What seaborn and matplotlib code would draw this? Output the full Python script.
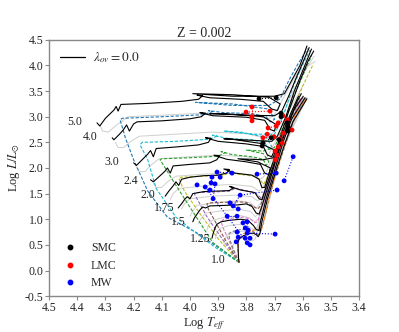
"""
HR diagram: evolutionary tracks at Z = 0.002 with SMC / LMC / MW stars
"""
import numpy as np
import pandas as pd
import matplotlib
matplotlib.use("Agg")
import matplotlib.pyplot as plt
import seaborn as sns
from matplotlib.lines import Line2D

# ---------------------------------------------------------------- data
masses = ["5.0", "4.0", "3.0", "2.4", "2.0", "1.75", "1.5", "1.25", "1.0"]
mass_colors = ["tab:blue", "tab:cyan", "tab:green", "tab:olive", "tab:purple",
               "tab:brown", "tab:pink", "tab:gray", "tab:orange"]

# lambda_ov = 0.0 tracks (logTeff, logL)
black_50 = [(4.33, 2.88), (4.32, 2.82), (4.30, 2.97), (4.27, 3.13), (4.262, 3.20), (4.255, 3.11),
            (4.245, 3.24), (4.15, 3.26), (4.03, 3.30), (3.97, 3.34), (3.955, 3.41), (3.975, 3.42),
            (3.93, 3.37), (3.82, 3.34), (3.74, 3.30), (3.71, 3.15), (3.69, 3.12), (3.68, 3.25),
            (3.72, 3.38), (3.85, 3.43), (3.99, 3.45), (3.85, 3.40), (3.70, 3.40), (3.665, 3.45),
            (3.64, 3.70), (3.61, 4.00), (3.585, 4.38)]
black_40 = [(4.276, 2.59), (4.27, 2.55), (4.25, 2.66), (4.237, 2.74), (4.225, 2.84), (4.215, 2.72),
            (4.20, 2.86), (4.188, 2.90), (4.10, 2.92), (4.00, 2.96), (3.96, 3.00), (3.945, 3.07),
            (3.965, 3.08), (3.92, 3.02), (3.80, 2.99), (3.735, 2.93), (3.715, 2.75), (3.70, 2.72),
            (3.695, 2.85), (3.74, 3.00), (3.88, 3.06), (3.93, 3.06), (3.80, 3.03), (3.70, 3.02),
            (3.675, 3.10), (3.65, 3.40), (3.62, 3.80), (3.577, 4.35)]
black_30 = [(4.20, 2.10), (4.19, 2.05), (4.17, 2.16), (4.15, 2.27), (4.14, 2.34), (4.13, 2.22),
            (4.12, 2.38), (4.05, 2.41), (3.97, 2.45), (3.935, 2.50), (3.925, 2.58), (3.945, 2.59),
            (3.90, 2.52), (3.80, 2.47), (3.74, 2.42), (3.725, 2.25), (3.71, 2.22), (3.70, 2.35),
            (3.75, 2.48), (3.85, 2.56), (3.88, 2.57), (3.78, 2.54), (3.71, 2.52), (3.69, 2.62),
            (3.66, 3.00), (3.63, 3.50), (3.60, 3.90), (3.569, 4.32)]
black_24 = [(4.14, 1.77), (4.13, 1.73), (4.11, 1.83), (4.09, 1.93), (4.08, 2.00), (4.07, 1.90),
            (4.06, 2.04), (4.00, 2.07), (3.93, 2.10), (3.905, 2.16), (3.895, 2.24), (3.915, 2.25),
            (3.87, 2.17), (3.80, 2.12), (3.75, 2.07), (3.735, 1.90), (3.72, 1.87), (3.715, 2.00),
            (3.76, 2.12), (3.83, 2.18), (3.74, 2.16), (3.705, 2.20), (3.68, 2.60), (3.65, 3.10),
            (3.61, 3.70), (3.58, 4.10), (3.561, 4.28)]
black_20 = [(4.088, 1.45), (4.075, 1.55), (4.06, 1.65), (4.05, 1.73), (4.04, 1.66), (4.03, 1.78),
            (4.00, 1.82), (3.95, 1.85), (3.90, 1.86), (3.87, 1.90), (3.86, 1.97), (3.88, 1.98),
            (3.84, 1.90), (3.78, 1.86), (3.755, 1.78), (3.745, 1.62), (3.735, 1.62), (3.725, 1.80),
            (3.70, 2.20), (3.67, 2.70), (3.64, 3.10), (3.615, 3.40)]
black_175 = [(4.042, 1.22), (4.03, 1.30), (4.02, 1.38), (4.01, 1.44), (4.00, 1.40), (3.99, 1.50),
             (3.95, 1.54), (3.90, 1.55), (3.86, 1.56), (3.845, 1.62), (3.86, 1.64), (3.82, 1.57),
             (3.77, 1.52), (3.755, 1.40), (3.745, 1.38), (3.735, 1.55), (3.71, 1.95), (3.68, 2.45),
             (3.65, 2.90), (3.62, 3.30), (3.605, 3.45)]
black_15 = [(3.99, 0.95), (3.985, 1.02), (3.975, 1.10), (3.965, 1.18), (3.955, 1.24), (3.945, 1.22),
            (3.93, 1.26), (3.88, 1.27), (3.83, 1.28), (3.80, 1.30), (3.78, 1.25), (3.765, 1.12),
            (3.755, 1.10), (3.745, 1.25), (3.72, 1.70), (3.69, 2.25), (3.66, 2.75), (3.63, 3.15),
            (3.598, 3.40)]
black_125 = [(3.922, 0.63), (3.918, 0.72), (3.912, 0.82), (3.905, 0.90), (3.89, 0.95), (3.86, 0.98),
             (3.82, 1.00), (3.795, 0.98), (3.775, 0.88), (3.765, 0.80), (3.755, 0.78), (3.75, 0.95),
             (3.73, 1.40), (3.70, 1.95), (3.67, 2.50), (3.64, 2.95), (3.592, 3.37)]
black_10 = [(3.826, 0.16), (3.828, 0.25), (3.829, 0.40), (3.83, 0.55), (3.825, 0.62), (3.81, 0.68),
            (3.79, 0.72), (3.775, 0.73), (3.765, 0.70), (3.758, 0.66), (3.752, 0.72), (3.745, 0.95),
            (3.725, 1.40), (3.695, 1.95), (3.665, 2.45), (3.635, 2.90), (3.585, 3.35)]

# other overshoot values (coloured dashed)
dash_50 = [(3.826, 0.16), (3.90, 0.45), (3.98, 0.75), (4.08, 1.04), (4.15, 1.55), (4.20, 2.16),
           (4.23, 2.60), (4.248, 2.94), (4.24, 2.97), (4.10, 3.00), (3.95, 3.04), (3.92, 3.10),
           (3.935, 3.12), (3.88, 3.08), (3.78, 3.06), (3.73, 3.00), (3.715, 2.90), (3.70, 2.95),
           (3.72, 3.15), (3.85, 3.25), (3.98, 3.28), (3.85, 3.22), (3.72, 3.22), (3.68, 3.35),
           (3.65, 3.70), (3.62, 4.00), (3.583, 4.33)]
dash_40 = [(3.826, 0.16), (3.91, 0.45), (3.99, 0.78), (4.05, 1.04), (4.12, 1.60), (4.15, 2.16),
           (4.177, 2.45), (4.17, 2.50), (4.05, 2.52), (3.93, 2.56), (3.905, 2.62), (3.92, 2.64),
           (3.87, 2.58), (3.78, 2.55), (3.735, 2.49), (3.72, 2.37), (3.71, 2.42), (3.73, 2.60),
           (3.82, 2.70), (3.88, 2.72), (3.78, 2.66), (3.70, 2.66), (3.67, 3.00), (3.64, 3.50),
           (3.61, 3.90), (3.575, 4.30)]
dash_30 = [(3.826, 0.16), (3.92, 0.55), (4.01, 1.32), (4.06, 1.75), (4.106, 2.16), (4.10, 2.18),
           (4.00, 2.20), (3.90, 2.23), (3.875, 2.30), (3.89, 2.32), (3.85, 2.26), (3.78, 2.22),
           (3.74, 2.17), (3.73, 2.05), (3.72, 2.12), (3.74, 2.28), (3.80, 2.35), (3.74, 2.33),
           (3.70, 2.40), (3.67, 2.80), (3.64, 3.30), (3.60, 3.80), (3.568, 4.20)]
dash_24 = [(3.826, 0.16), (3.90, 0.62), (3.97, 1.15), (4.02, 1.55), (4.04, 1.80), (4.03, 1.82),
           (3.96, 1.84), (3.88, 1.86), (3.855, 1.92), (3.865, 1.95), (3.83, 1.88), (3.77, 1.84),
           (3.75, 1.76), (3.74, 1.68), (3.73, 1.76), (3.70, 2.20), (3.67, 2.70), (3.63, 3.20),
           (3.60, 3.60), (3.565, 4.00)]
dash_20 = [(3.826, 0.16), (3.89, 0.65), (3.94, 1.05), (3.97, 1.35), (3.985, 1.50), (3.98, 1.52),
           (3.92, 1.53), (3.86, 1.55), (3.84, 1.60), (3.85, 1.62), (3.81, 1.57), (3.77, 1.52),
           (3.755, 1.45), (3.745, 1.40), (3.735, 1.48), (3.71, 1.90), (3.68, 2.40), (3.65, 2.90),
           (3.62, 3.25), (3.612, 3.37)]
dash_175 = [(3.826, 0.16), (3.87, 0.55), (3.91, 0.95), (3.935, 1.20), (3.94, 1.30), (3.93, 1.32),
            (3.88, 1.33), (3.83, 1.34), (3.80, 1.33), (3.775, 1.25), (3.76, 1.20), (3.75, 1.26),
            (3.725, 1.70), (3.695, 2.20), (3.66, 2.75), (3.63, 3.10), (3.605, 3.37)]
dash_15 = [(3.826, 0.16), (3.855, 0.50), (3.88, 0.80), (3.89, 0.95), (3.88, 1.00), (3.84, 1.03),
           (3.81, 1.04), (3.785, 1.00), (3.77, 0.93), (3.76, 0.95), (3.735, 1.40), (3.705, 1.95),
           (3.67, 2.50), (3.64, 2.95), (3.60, 3.37)]
dash_125 = [(3.826, 0.16), (3.845, 0.40), (3.86, 0.62), (3.862, 0.72), (3.85, 0.76), (3.82, 0.80),
            (3.79, 0.80), (3.77, 0.74), (3.758, 0.70), (3.748, 0.78), (3.725, 1.25), (3.70, 1.80),
            (3.665, 2.40), (3.63, 2.95), (3.59, 3.37)]
dash_10 = [(3.826, 0.16), (3.83, 0.40), (3.828, 0.60), (3.81, 0.72), (3.78, 0.78), (3.76, 0.80),
           (3.748, 0.78), (3.74, 0.90), (3.72, 1.40), (3.69, 2.00), (3.655, 2.60), (3.625, 3.05),
           (3.585, 3.37)]

# light grey grid of neighbouring tracks
grey_tracks = [
    [(4.32, 2.84), (4.31, 2.72), (4.29, 2.70), (4.26, 2.84), (4.22, 3.00), (4.10, 3.03), (3.95, 3.07),
     (3.80, 3.05), (3.72, 2.96), (3.70, 3.05), (3.66, 3.45), (3.62, 3.85), (3.556, 4.08)],
    [(4.265, 2.50), (4.255, 2.40), (4.235, 2.40), (4.21, 2.52), (4.18, 2.62), (4.05, 2.66), (3.92, 2.70),
     (3.80, 2.67), (3.73, 2.58), (3.71, 2.65), (3.67, 3.05), (3.63, 3.55), (3.56, 4.18)],
    [(4.19, 2.02), (4.18, 1.93), (4.16, 1.93), (4.14, 2.05), (4.11, 2.18), (4.00, 2.22), (3.90, 2.25),
     (3.80, 2.22), (3.745, 2.15), (3.725, 2.22), (3.69, 2.60), (3.65, 3.10), (3.60, 3.60)],
    [(4.13, 1.70), (4.12, 1.62), (4.10, 1.62), (4.08, 1.73), (4.05, 1.84), (3.95, 1.88), (3.86, 1.90),
     (3.78, 1.86), (3.75, 1.78), (3.735, 1.85), (3.70, 2.30), (3.66, 2.85), (3.62, 3.30)],
    [(4.07, 1.38), (4.06, 1.50), (4.04, 1.60), (3.95, 1.65), (3.85, 1.68), (3.78, 1.64), (3.755, 1.55),
     (3.74, 1.62), (3.71, 2.05), (3.68, 2.55), (3.64, 3.05), (3.61, 3.35)],
    [(4.03, 1.20), (4.02, 1.30), (4.00, 1.40), (3.92, 1.45), (3.84, 1.47), (3.78, 1.44), (3.76, 1.36),
     (3.745, 1.42), (3.715, 1.90), (3.685, 2.40), (3.65, 2.90), (3.605, 3.36)],
    [(4.00, 1.06), (3.99, 1.16), (3.975, 1.27), (3.90, 1.33), (3.83, 1.36), (3.785, 1.32), (3.765, 1.22),
     (3.75, 1.30), (3.72, 1.80), (3.69, 2.30), (3.655, 2.80), (3.60, 3.37)],
    [(3.97, 0.92), (3.96, 1.02), (3.945, 1.12), (3.88, 1.17), (3.82, 1.19), (3.785, 1.15), (3.768, 1.05),
     (3.755, 1.12), (3.725, 1.65), (3.695, 2.20), (3.66, 2.70), (3.598, 3.37)],
    [(3.94, 0.78), (3.935, 0.88), (3.92, 0.98), (3.87, 1.05), (3.82, 1.07), (3.79, 1.03), (3.77, 0.95),
     (3.758, 1.00), (3.73, 1.50), (3.70, 2.05), (3.665, 2.60), (3.595, 3.37)],
    [(3.91, 0.62), (3.905, 0.72), (3.895, 0.82), (3.86, 0.88), (3.82, 0.90), (3.795, 0.87), (3.775, 0.80),
     (3.762, 0.85), (3.735, 1.35), (3.705, 1.90), (3.67, 2.45), (3.59, 3.37)],
    [(3.88, 0.48), (3.878, 0.58), (3.87, 0.68), (3.84, 0.75), (3.81, 0.77), (3.79, 0.74), (3.775, 0.68),
     (3.765, 0.72), (3.74, 1.20), (3.71, 1.75), (3.675, 2.35), (3.588, 3.37)],
    [(3.85, 0.32), (3.85, 0.42), (3.845, 0.52), (3.83, 0.60), (3.81, 0.64), (3.79, 0.62), (3.778, 0.58),
     (3.768, 0.62), (3.745, 1.10), (3.715, 1.65), (3.68, 2.25), (3.586, 3.36)],
]

# observed stars
smc_logT = [3.755, 3.694, 3.677, 3.677, 3.655, 3.652, 3.652, 3.684, 3.712, 3.741, 3.744]
smc_logL = [3.35, 3.37, 3.07, 3.00, 2.88, 2.80, 2.72, 2.55, 2.59, 2.49, 2.43]
smc_links = [(0, 1), (2, 3), (4, 5, 6), (9, 8, 7)]

lmc_logT = [3.801, 3.780, 3.780, 3.780, 3.716, 3.687, 3.670, 3.655, 3.723, 3.694, 3.638,
            3.726, 3.670, 3.741, 3.702, 3.680, 3.673, 3.687, 3.698, 3.691, 3.698]
lmc_logL = [3.09, 3.19, 3.00, 2.92, 3.11, 2.88, 3.02, 2.94, 2.78, 2.82, 2.74,
            2.66, 2.68, 2.59, 2.61, 2.57, 2.49, 2.41, 2.33, 2.25, 2.16]
lmc_links = [(0, 4), (1, 2, 3), (5, 7), (8, 9), (13, 14, 15), (17, 18, 19, 20)]

mw_logT = [3.904, 3.922, 3.893, 3.911, 3.925, 3.946, 3.975, 3.929, 3.918, 3.851, 3.762, 3.694,
           3.666, 3.691, 3.634, 3.822, 3.858, 3.847, 3.829, 3.868, 3.833, 3.812, 3.797, 3.804,
           3.794, 3.797, 3.787, 3.797, 3.833, 3.829, 3.836, 3.787, 3.804, 3.698]
mw_logL = [1.92, 1.82, 1.82, 1.69, 1.71, 1.63, 1.67, 1.57, 1.40, 1.90, 1.88, 1.90,
           1.75, 1.57, 2.22, 1.47, 1.32, 1.26, 1.20, 1.06, 1.06, 0.93, 0.95, 0.83,
           0.79, 0.73, 0.63, 0.54, 0.75, 0.65, 0.56, 0.50, 0.63, 0.71]
mw_links = [(0, 9), (0, 2), (1, 4), (3, 8), (10, 11), (14, 12), (13, 15), (15, 17, 18),
            (5, 27), (25, 33), (19, 20), (21, 22, 24)]

# where the mass labels sit
label_logT = [4.408, 4.355, 4.276, 4.209, 4.149, 4.092, 4.042, 3.964, 3.900]
label_logL = [2.898, 2.605, 2.117, 1.746, 1.473, 1.219, 0.945, 0.613, 0.203]

black_tracks = [black_50, black_40, black_30, black_24, black_20, black_175, black_15, black_125, black_10]
dash_tracks = [dash_50, dash_40, dash_30, dash_24, dash_20, dash_175, dash_15, dash_125, dash_10]


def tracks_frame(tracks, names):
    rows = []
    for name, pts in zip(names, tracks):
        for t, l in pts:
            rows.append((name, t, l))
    return pd.DataFrame(rows, columns=["track", "logT", "logL"])


def draw_stars(ax, xs, ys, links, color):
    for grp in links:
        ax.plot([xs[i] for i in grp], [ys[i] for i in grp], ls=":", lw=0.8, color=color, zorder=4)
    sns.scatterplot(x=xs, y=ys, color=color, s=12, edgecolor="none", zorder=5, ax=ax)


def main():
    sns.set_theme(style="white")
    plt.rcParams["font.family"] = ["Liberation Serif", "DejaVu Serif"]
    plt.rcParams["mathtext.fontset"] = "stix"

    fig = plt.figure(figsize=(3.99, 3.32), dpi=100)
    ax = fig.add_axes([0.123, 0.108, 0.777, 0.772])

    grey_df = tracks_frame(grey_tracks, [f"g{i}" for i in range(len(grey_tracks))])
    sns.lineplot(data=grey_df, x="logT", y="logL", units="track", estimator=None, sort=False,
                 color="#cfcfcf", lw=0.7, ax=ax, zorder=1)

    dash_df = tracks_frame(dash_tracks, masses)
    sns.lineplot(data=dash_df, x="logT", y="logL", hue="track", estimator=None, sort=False,
                 palette=dict(zip(masses, mass_colors)), lw=0.8, linestyle=(0, (3, 1.5)),
                 legend=False, ax=ax, zorder=2)

    black_df = tracks_frame(black_tracks, masses)
    sns.lineplot(data=black_df, x="logT", y="logL", units="track", estimator=None, sort=False,
                 color="black", lw=0.8, ax=ax, zorder=3)

    draw_stars(ax, mw_logT, mw_logL, mw_links, "blue")
    draw_stars(ax, lmc_logT, lmc_logL, lmc_links, "red")
    draw_stars(ax, smc_logT, smc_logL, smc_links, "black")

    for lab, t, l in zip(masses, label_logT, label_logL):
        ax.text(t, l, lab, fontsize=8.5, ha="center", va="center", color="#222222")

    ax.set_xlim(4.5, 3.4)
    ax.set_ylim(-0.5, 4.5)
    ax.set_xticks(np.arange(4.5, 3.35, -0.1))
    ax.set_yticks(np.arange(-0.5, 4.51, 0.5))
    ax.xaxis.set_major_formatter(matplotlib.ticker.FormatStrFormatter("%.1f"))
    ax.yaxis.set_major_formatter(matplotlib.ticker.FormatStrFormatter("%.1f"))
    ax.tick_params(labelsize=8.5, length=3, width=0.8, color="#888888", pad=1,
                   bottom=True, left=True, direction="out")
    for sp in ax.spines.values():
        sp.set_color("#888888")
        sp.set_linewidth(1.0)

    ax.set_xlabel(r"Log $T_{eff}$", fontsize=9, labelpad=1)
    ax.set_ylabel(r"Log $L/L_{\odot}$", fontsize=9, labelpad=2)
    ax.set_title("Z = 0.002", fontsize=10, pad=2)

    leg1 = ax.legend([Line2D([], [], color="black", lw=0.9)], [r"$\lambda_{ov} = 0.0$"],
                     loc="upper left", frameon=False, fontsize=9.5, handlelength=1.9,
                     handletextpad=0.6, borderaxespad=0.4)
    ax.add_artist(leg1)
    star_handles = [Line2D([], [], ls="none", marker="o", ms=3.2, color=c) for c in ["black", "red", "blue"]]
    ax.legend(star_handles, ["SMC", "LMC", "MW"], loc="lower left", frameon=False, fontsize=8.5,
              handlelength=1.0, handletextpad=1.3, labelspacing=0.45, borderaxespad=0.2,
              bbox_to_anchor=(0.025, 0.0))

    fig.savefig("out.png", dpi=100)
    plt.close(fig)


if __name__ == "__main__":
    main()
